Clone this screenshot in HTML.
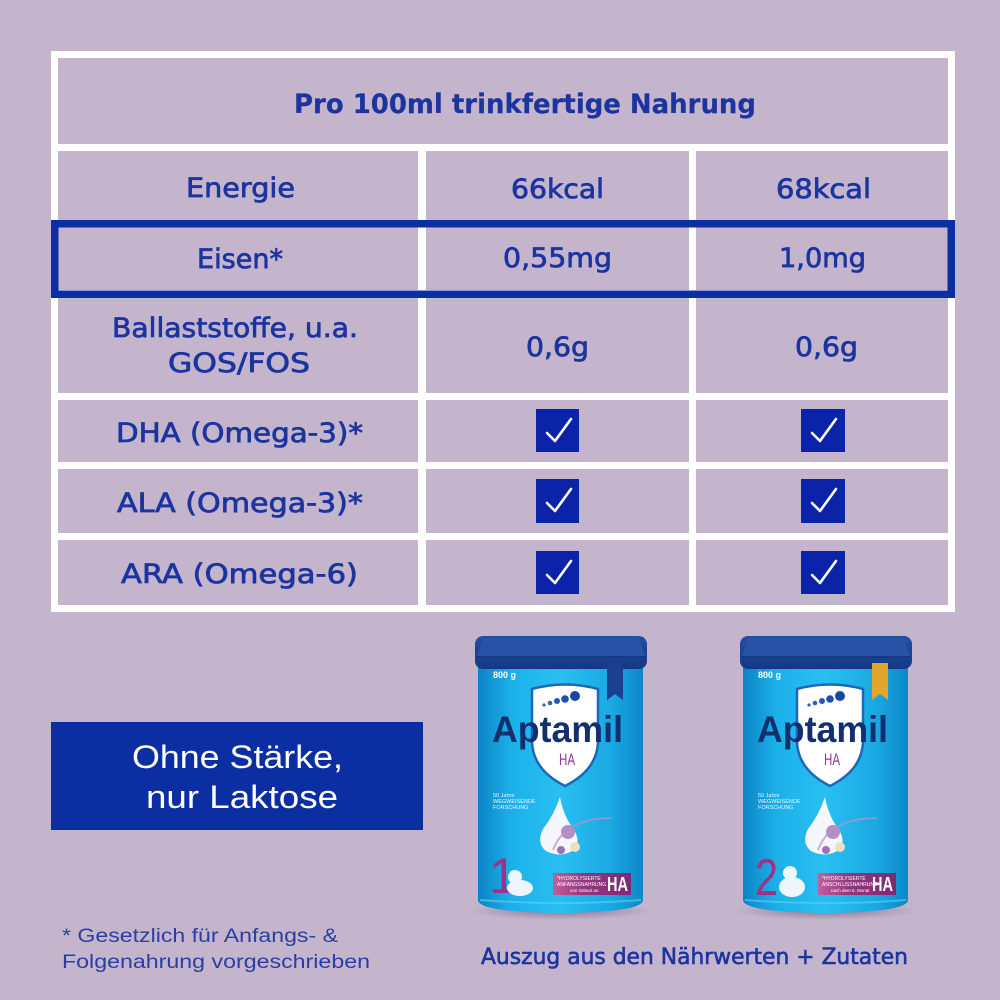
<!DOCTYPE html>
<html><head><meta charset="utf-8"><style>
html,body{margin:0;padding:0;background:#c4b5cc;}
svg{display:block}
.t{font-family:"DejaVu Sans","Liberation Sans",sans-serif;font-size:27px;fill:#1b34a0;stroke:#1b34a0;stroke-width:0.75px}
.l{font-family:"Liberation Sans","DejaVu Sans",sans-serif}
</style></head><body>
<svg width="1000" height="1000" viewBox="0 0 1000 1000" xmlns="http://www.w3.org/2000/svg">
<defs>
<linearGradient id="body" x1="0" x2="1" y1="0" y2="0">
<stop offset="0" stop-color="#0c83c6"/><stop offset="0.2" stop-color="#1cb0e9"/><stop offset="0.5" stop-color="#29bff1"/><stop offset="0.8" stop-color="#1aa9e3"/><stop offset="1" stop-color="#0d87c9"/>
</linearGradient>
<linearGradient id="lid" x1="0" x2="0" y1="0" y2="1">
<stop offset="0" stop-color="#244e9f"/><stop offset="1" stop-color="#143885"/>
</linearGradient>
<linearGradient id="ban" x1="0" x2="1" y1="0" y2="0">
<stop offset="0" stop-color="#c0609c"/><stop offset="0.4" stop-color="#95357f"/><stop offset="1" stop-color="#7b2a76"/>
</linearGradient>
<radialGradient id="shad" cx="0.5" cy="0.5" r="0.5">
<stop offset="0" stop-color="#5a4670" stop-opacity="0.55"/><stop offset="1" stop-color="#5a4670" stop-opacity="0"/>
</radialGradient>
</defs>
<rect width="1000" height="1000" fill="#c4b5cc"/>

<!-- table -->
<rect x="51" y="51" width="904" height="561" fill="#ffffff"/>
<g fill="#c4b5cc">
<rect x="58" y="58" width="890" height="86"/>
<rect x="58" y="151" width="360" height="69"/><rect x="426" y="151" width="263" height="69"/><rect x="696" y="151" width="252" height="69"/>
<rect x="58" y="227" width="360" height="63"/><rect x="426" y="227" width="263" height="63"/><rect x="696" y="227" width="252" height="63"/>
<rect x="58" y="298" width="360" height="95"/><rect x="426" y="298" width="263" height="95"/><rect x="696" y="298" width="252" height="95"/>
<rect x="58" y="400" width="360" height="62"/><rect x="426" y="400" width="263" height="62"/><rect x="696" y="400" width="252" height="62"/>
<rect x="58" y="469" width="360" height="64"/><rect x="426" y="469" width="263" height="64"/><rect x="696" y="469" width="252" height="64"/>
<rect x="58" y="540" width="360" height="65"/><rect x="426" y="540" width="263" height="65"/><rect x="696" y="540" width="252" height="65"/>
</g>
<rect x="54.75" y="223.75" width="896.5" height="70.5" fill="none" stroke="#0b2ea2" stroke-width="7.5"/>

<text class="t" x="294" y="113" textLength="462" lengthAdjust="spacingAndGlyphs" style="font-weight:bold;stroke-width:0.2px">Pro 100ml trinkfertige Nahrung</text>
<text class="t" x="186" y="197" textLength="109" lengthAdjust="spacingAndGlyphs">Energie</text>
<text class="t" x="511" y="198" textLength="93" lengthAdjust="spacingAndGlyphs">66kcal</text>
<text class="t" x="776" y="198" textLength="95" lengthAdjust="spacingAndGlyphs">68kcal</text>
<text class="t" x="197" y="268" textLength="86" lengthAdjust="spacingAndGlyphs">Eisen*</text>
<text class="t" x="503" y="267" textLength="109" lengthAdjust="spacingAndGlyphs">0,55mg</text>
<text class="t" x="779" y="267" textLength="87" lengthAdjust="spacingAndGlyphs">1,0mg</text>
<text class="t" x="112" y="337" textLength="246" lengthAdjust="spacingAndGlyphs">Ballaststoffe, u.a.</text>
<text class="t" x="168" y="372" textLength="142" lengthAdjust="spacingAndGlyphs">GOS/FOS</text>
<text class="t" x="526" y="356" textLength="63" lengthAdjust="spacingAndGlyphs">0,6g</text>
<text class="t" x="795" y="356" textLength="63" lengthAdjust="spacingAndGlyphs">0,6g</text>
<text class="t" x="116" y="442" textLength="247" lengthAdjust="spacingAndGlyphs">DHA (Omega-3)*</text>
<text class="t" x="117" y="512" textLength="246" lengthAdjust="spacingAndGlyphs">ALA (Omega-3)*</text>
<text class="t" x="121" y="583" textLength="237" lengthAdjust="spacingAndGlyphs">ARA (Omega-6)</text>

<!-- checkboxes -->
<g fill="#0b23a8">
<rect x="536" y="409" width="43" height="43"/><rect x="801" y="409" width="44" height="43"/>
<rect x="536" y="479" width="43" height="44"/><rect x="801" y="479" width="44" height="44"/>
<rect x="536" y="551" width="43" height="43"/><rect x="801" y="551" width="44" height="43"/>
</g>
<g fill="none" stroke="#ffffff" stroke-width="2.6" stroke-linecap="round" stroke-linejoin="round">
<path d="M547,433 L555,441 L571,419"/><path d="M812,433 L820,441 L836,419"/>
<path d="M547,503 L555,511 L571,489"/><path d="M812,503 L820,511 L836,489"/>
<path d="M547,575 L555,583 L571,561"/><path d="M812,575 L820,583 L836,561"/>
</g>

<!-- Ohne Stärke box -->
<rect x="51" y="722" width="372" height="108" fill="#0b2fa3"/>
<text class="l" x="132" y="768" font-size="32" fill="#ffffff" textLength="211" lengthAdjust="spacingAndGlyphs">Ohne Stärke,</text>
<text class="l" x="146" y="808" font-size="32" fill="#ffffff" textLength="192" lengthAdjust="spacingAndGlyphs">nur Laktose</text>

<!-- footnote -->
<text class="l" x="62" y="942" font-size="19" fill="#2a3fa3" textLength="276" lengthAdjust="spacingAndGlyphs">* Gesetzlich für Anfangs- &amp;</text>
<text class="l" x="62" y="968" font-size="19" fill="#2a3fa3" textLength="308" lengthAdjust="spacingAndGlyphs">Folgenahrung vorgeschrieben</text>

<!-- caption -->
<text class="t" x="481" y="964" style="font-size:22px;stroke-width:0.6px" textLength="427" lengthAdjust="spacingAndGlyphs">Auszug aus den Nährwerten + Zutaten</text>

<!-- can 1 -->
<g>
<ellipse cx="561" cy="911" rx="92" ry="9" fill="url(#shad)"/>
<path d="M478,667 L643,667 L643,900 Q643,912 561,913 Q478,912 478,900 Z" fill="url(#body)"/>
<path d="M480,900 Q561,906 641,900" stroke="#5fd3f5" stroke-width="2" fill="none" opacity="0.6"/>
<rect x="475" y="636" width="172" height="33" rx="8" fill="url(#lid)"/>
<path d="M483,638 L639,638 L645,656 L477,656 Z" fill="#2752a5"/>
<path d="M476,657 L646,657" stroke="#133783" stroke-width="1.5"/>
<text x="493" y="678" font-family="Liberation Sans, sans-serif" font-weight="bold" font-size="9" fill="#ffffff">800 g</text>
<path d="M607,663 L623,663 L623,700 L615,694 L607,700 Z" fill="#1c3f8f"/>
<path d="M532,689 Q565,680 598,689 L598,742 Q597,770 565,786 Q533,770 532,742 Z" fill="#ffffff" stroke="#1b68b8" stroke-width="2.5"/>
<circle cx="544" cy="705" r="1.6" fill="#2c62c0"/><circle cx="550" cy="703" r="2.3" fill="#2c62c0"/><circle cx="557" cy="701" r="3" fill="#2257b8"/><circle cx="565" cy="699" r="3.8" fill="#1d4fae"/><circle cx="575" cy="696" r="5" fill="#1846a2"/>
<text x="492" y="742" font-family="Liberation Sans, sans-serif" font-weight="bold" font-size="37" fill="#12306f" textLength="131" lengthAdjust="spacingAndGlyphs">Aptamil</text>
<text x="559" y="765" font-family="Liberation Sans, sans-serif" font-size="17" fill="#8b3a8e" textLength="16" lengthAdjust="spacingAndGlyphs">HA</text>
<text x="493" y="797" font-family="Liberation Sans, sans-serif" font-size="5.5" fill="#e8f6ff">50 Jahre</text>
<text x="493" y="803" font-family="Liberation Sans, sans-serif" font-size="5.5" fill="#e8f6ff">WEGWEISENDE</text>
<text x="493" y="809" font-family="Liberation Sans, sans-serif" font-size="5.5" fill="#e8f6ff">FORSCHUNG</text>
<path d="M560,797 Q563,815 574,830 Q582,843 572,851 Q560,858 546,851 Q536,843 543,829 Q554,815 560,797 Z" fill="#f4f8fc"/>
<path d="M553,850 Q565,818 612,818" stroke="#b98fc8" stroke-width="2" fill="none" opacity="0.7"/>
<circle cx="568" cy="832" r="7" fill="#b48fc6"/><circle cx="575" cy="847" r="5" fill="#ece0c4"/><circle cx="561" cy="850" r="4" fill="#a56db8"/>
<text x="489" y="893" font-family="Liberation Sans, sans-serif" font-size="50" fill="#9c3386">1</text>
<ellipse cx="520" cy="888" rx="13" ry="8" fill="#eef6fb"/><circle cx="515" cy="877" r="7" fill="#eef6fb"/>
<rect x="553" y="873" width="78" height="22" fill="url(#ban)"/>
<text x="557" y="880" font-family="Liberation Sans, sans-serif" font-size="5" fill="#ffffff">*HYDROLYSIERTE</text>
<text x="557" y="886" font-family="Liberation Sans, sans-serif" font-size="5" fill="#ffffff">ANFANGSNAHRUNG</text>
<text x="570" y="892" font-family="Liberation Sans, sans-serif" font-size="4.5" fill="#ffffff">von Geburt an</text>
<text x="607" y="891" font-family="Liberation Sans, sans-serif" font-weight="bold" font-size="20" fill="#ffffff" textLength="21" lengthAdjust="spacingAndGlyphs">HA</text>
</g>

<!-- can 2 -->
<g transform="translate(265,0)">
<ellipse cx="561" cy="911" rx="92" ry="9" fill="url(#shad)"/>
<path d="M478,667 L643,667 L643,900 Q643,912 561,913 Q478,912 478,900 Z" fill="url(#body)"/>
<path d="M480,900 Q561,906 641,900" stroke="#5fd3f5" stroke-width="2" fill="none" opacity="0.6"/>
<rect x="475" y="636" width="172" height="33" rx="8" fill="url(#lid)"/>
<path d="M483,638 L639,638 L645,656 L477,656 Z" fill="#2752a5"/>
<path d="M476,657 L646,657" stroke="#133783" stroke-width="1.5"/>
<text x="493" y="678" font-family="Liberation Sans, sans-serif" font-weight="bold" font-size="9" fill="#ffffff">800 g</text>
<path d="M607,663 L623,663 L623,700 L615,694 L607,700 Z" fill="#e3a52c"/>
<path d="M532,689 Q565,680 598,689 L598,742 Q597,770 565,786 Q533,770 532,742 Z" fill="#ffffff" stroke="#1b68b8" stroke-width="2.5"/>
<circle cx="544" cy="705" r="1.6" fill="#2c62c0"/><circle cx="550" cy="703" r="2.3" fill="#2c62c0"/><circle cx="557" cy="701" r="3" fill="#2257b8"/><circle cx="565" cy="699" r="3.8" fill="#1d4fae"/><circle cx="575" cy="696" r="5" fill="#1846a2"/>
<text x="492" y="742" font-family="Liberation Sans, sans-serif" font-weight="bold" font-size="37" fill="#12306f" textLength="131" lengthAdjust="spacingAndGlyphs">Aptamil</text>
<text x="559" y="765" font-family="Liberation Sans, sans-serif" font-size="17" fill="#8b3a8e" textLength="16" lengthAdjust="spacingAndGlyphs">HA</text>
<text x="493" y="797" font-family="Liberation Sans, sans-serif" font-size="5.5" fill="#e8f6ff">50 Jahre</text>
<text x="493" y="803" font-family="Liberation Sans, sans-serif" font-size="5.5" fill="#e8f6ff">WEGWEISENDE</text>
<text x="493" y="809" font-family="Liberation Sans, sans-serif" font-size="5.5" fill="#e8f6ff">FORSCHUNG</text>
<path d="M560,797 Q563,815 574,830 Q582,843 572,851 Q560,858 546,851 Q536,843 543,829 Q554,815 560,797 Z" fill="#f4f8fc"/>
<path d="M553,850 Q565,818 612,818" stroke="#b98fc8" stroke-width="2" fill="none" opacity="0.7"/>
<circle cx="568" cy="832" r="7" fill="#b48fc6"/><circle cx="575" cy="847" r="5" fill="#ece0c4"/><circle cx="561" cy="850" r="4" fill="#a56db8"/>
<text x="490" y="895" font-family="Liberation Sans, sans-serif" font-size="52" fill="#9c3386" textLength="23" lengthAdjust="spacingAndGlyphs">2</text>
<ellipse cx="527" cy="887" rx="13" ry="10" fill="#eef6fb"/><circle cx="525" cy="873" r="7" fill="#eef6fb"/>
<rect x="553" y="873" width="78" height="22" fill="url(#ban)"/>
<text x="557" y="880" font-family="Liberation Sans, sans-serif" font-size="5" fill="#ffffff">*HYDROLYSIERTE</text>
<text x="557" y="886" font-family="Liberation Sans, sans-serif" font-size="5" fill="#ffffff">ANSCHLUSSNAHRUNG</text>
<text x="566" y="892" font-family="Liberation Sans, sans-serif" font-size="4.5" fill="#ffffff">nach dem 6. Monat</text>
<text x="607" y="891" font-family="Liberation Sans, sans-serif" font-weight="bold" font-size="20" fill="#ffffff" textLength="21" lengthAdjust="spacingAndGlyphs">HA</text>
</g>
</svg>
</body></html>
